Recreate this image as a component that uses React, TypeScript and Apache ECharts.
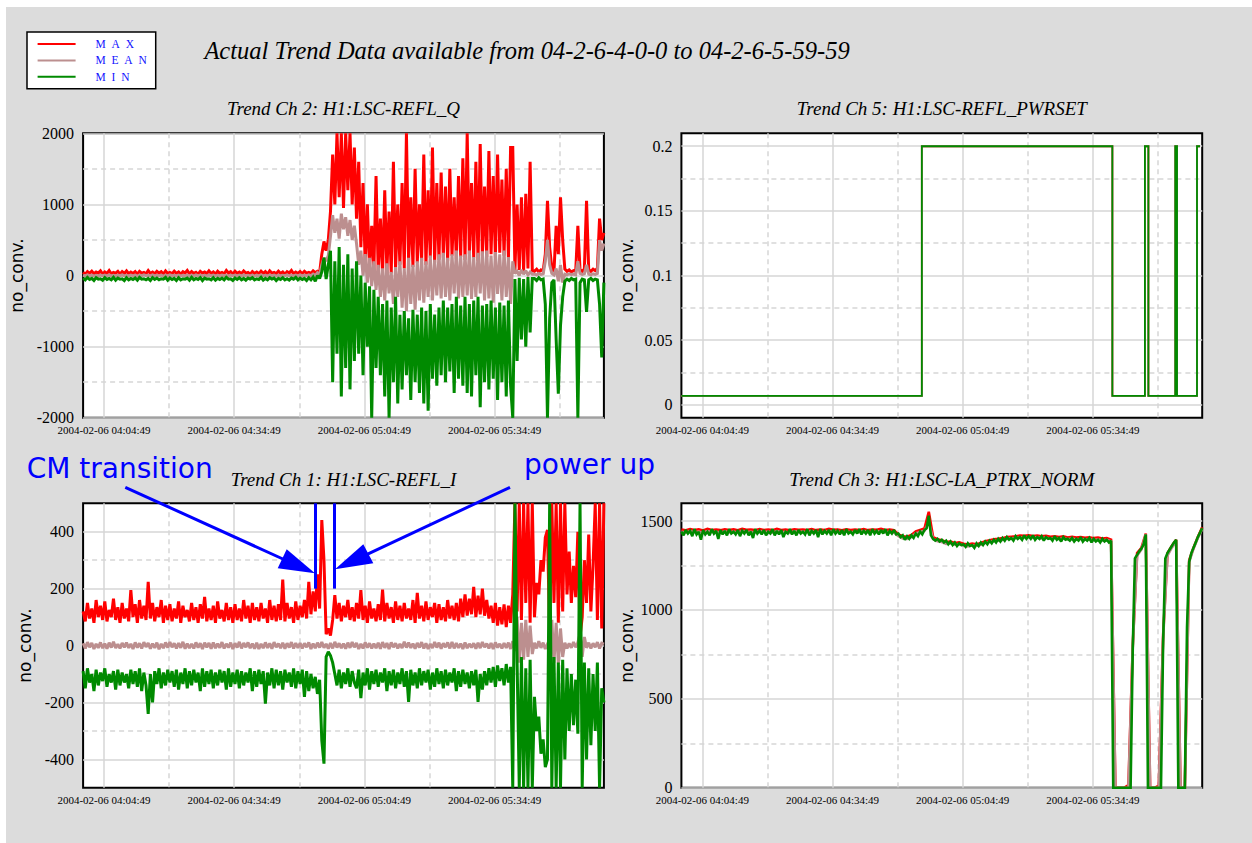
import React, { useEffect, useRef } from "react";
import * as echarts from "echarts";

// ---------- axis ticks (minutes after 04:00:00) ----------
const xTickLabels = ["2004-02-06 04:04:49", "2004-02-06 04:34:49", "2004-02-06 05:04:49", "2004-02-06 05:34:49"];
const xTickMinutes = [4 + 49 / 60, 34 + 49 / 60, 64 + 49 / 60, 94 + 49 / 60];
const xDashMinutes = [19 + 49 / 60, 49 + 49 / 60, 79 + 49 / 60, 109 + 49 / 60];

const ch2YLabels = [-2000, -1000, 0, 1000, 2000];
const ch2YDash = [-1500, -500, 500, 1500];
const ch5YLabels = [0, 0.05, 0.1, 0.15, 0.2];
const ch5YDash = [0.025, 0.075, 0.125, 0.175];
const ch1YLabels = [-400, -200, 0, 200, 400];
const ch1YDash = [-300, -100, 100, 300];
const ch3YLabels = [0, 500, 1000, 1500];
const ch3YDash = [250, 750, 1250];

const FINE_STEP = 0.5; // minutes between samples
const COARSE_STEP = 1;

// ---------- Ch 2: H1:LSC-REFL_Q ----------
const reflQMax = [
  45, 20, 55, 30, 60, 25, 50, 35, 65, 20, 50, 30, 70, 25, 45, 35, 60, 20, 55, 30,
  65, 25, 50, 30, 55, 20, 60, 35, 45, 25, 70, 30, 50, 25, 60, 35, 55, 20, 65, 30,
  45, 25, 60, 30, 50, 20, 55, 35, 70, 25, 55, 30, 45, 20, 60, 35, 50, 25, 65, 30,
  50, 20, 60, 30, 45, 25, 70, 35, 55, 20, 60, 30, 50, 25, 65, 35, 45, 20, 55, 30,
  50, 25, 60, 30, 55, 20, 65, 35, 45, 25, 60, 30, 50, 20, 55, 35, 70, 25, 50, 30,
  55, 25, 60, 35, 45, 30, 65, 40, 60, 45,
  300, 480, 350, 500,
  900, 1700, 1000, 2000, 1100, 2000, 950, 2000, 1200, 2000, 1000, 1800,
  800, 1600, 400, 1300, 150, 1000, 100, 700, 80, 1400,
  50, 800, 20, 1200, 60, 900, 30, 1600, 80, 1000,
  150, 1300, 100, 2000, 200, 1100, 120, 1500, 180, 1000,
  200, 1700, 150, 1200, 250, 1800, 180, 1300, 220, 1450,
  250, 1250, 200, 1500, 280, 1100, 230, 1400, 260, 1650,
  220, 2000, 300, 1300, 250, 1600, 200, 1850, 280, 1250,
  260, 1750, 300, 1400, 250, 1700, 320, 1350, 280, 1500, 240, 1800,
  1800, 80,
  1000, 80, 1100, 60, 1150, 100, 1600, 70,
  60, 90, 50, 80, 60, 300, 1050, 400, 100, 60, 700, 300, 1100, 500, 90, 60, 80, 50, 70, 60,
  700, 80, 60, 90, 1050, 80, 60, 90, 70, 100, 800, 500, 600,
];
const reflQMean = [
  5, -5, 8, -3, 6, -8, 4, -4, 7, -6, 6, -4, 9, -5, 3, -7, 5, -3, 8, -5,
  4, -6, 7, -4, 5, -8, 6, -5, 9, -3, 5, -5, 8, -6, 4, -4, 7, -7, 6, -5,
  8, -3, 5, -6, 7, -4, 4, -8, 6, -5, 5, -6, 9, -4, 6, -5, 3, -7, 8, -4,
  6, -5, 4, -6, 7, -3, 5, -8, 6, -4, 7, -5, 5, -4, 8, -6, 4, -5, 6, -7,
  5, -4, 8, -6, 3, -5, 7, -4, 6, -8, 6, -5, 5, -3, 9, -6, 4, -5, 7, -4,
  8, -5, 6, -4, 10, -3, 20, 0, 40, 10,
  150, 250, 200, 280,
  550, 850, 600, 800, 520, 870, 650, 820, 560, 780, 500, 700,
  450, 150, 350, 0, 300, -100, 250, -150, 200, -200,
  150, -300, 100, -350, 170, -250, 50, -400, 120, -300,
  200, -450, 100, -500, 250, -400, 150, -480, 200, -350,
  250, -380, 200, -300, 280, -350, 220, -280, 300, -320,
  320, -300, 250, -350, 300, -250, 350, -320, 280, -300,
  300, -280, 350, -330, 260, -300, 320, -250, 340, -350,
  350, -320, 280, -380, 330, -260, 300, -350, 350, -300, 260, -400,
  200, 30,
  60, 0, 80, 20, 70, 10, 50, 20,
  20, 10, 30, 15, 25, 200, 500, 150, 30, 10, 100, -80, 150, -100, 20, 10, 25, 15, 20, 10,
  200, 30, 15, 25, 150, 20, 10, 25, 15, 30, 500, 350, 450,
];
const reflQMin = [
  -35, -60, -25, -55, -40, -70, -30, -50, -45, -65, -30, -55, -40, -60, -25, -65, -35, -50, -45, -70,
  -30, -60, -40, -55, -35, -65, -25, -50, -45, -60, -40, -70, -30, -55, -35, -60, -45, -50, -25, -65,
  -35, -55, -40, -70, -30, -60, -45, -50, -35, -65, -25, -60, -40, -55, -30, -70, -35, -50, -45, -60,
  -30, -65, -40, -55, -35, -60, -25, -50, -45, -70, -35, -55, -30, -60, -40, -65, -35, -50, -30, -60,
  -45, -55, -25, -65, -40, -60, -30, -50, -35, -70, -40, -55, -30, -60, -45, -65, -35, -50, -25, -60,
  -35, -55, -40, -70, -30, -60, -20, -80, 0, -40,
  50, 250, -50, 150,
  350, -1500, 200, -1100, 400, -1700, 150, -1300, 300, -1600, 100, -1200,
  200, -1100, 0, -1400, -100, -1000, -150, -2000, -200, -1300,
  -300, -1400, -400, -1700, -350, -2000, -450, -1500, -300, -1800,
  -550, -1600, -500, -1400, -600, -1750, -480, -1500, -550, -1650,
  -450, -1800, -500, -1900, -400, -1450, -550, -1550, -450, -1400,
  -350, -1500, -450, -1350, -400, -1650, -300, -1450, -420, -1550,
  -300, -1650, -400, -1700, -350, -1400, -300, -1850, -420, -1500,
  -400, -1600, -350, -1450, -450, -1750, -380, -1500, -420, -1700, -350, -1550,
  -2000, -50,
  -1200, -30, -900, -50, -1000, -20, -800, -40,
  -40, -70, -30, -60, -50, -400, -2000, -600, -100, -60, -900, -1660, -700, -300, -80, -50, -70, -40, -60, -50,
  -2000, -100, -50, -60, -510, -60, -40, -70, -50, -60, -400, -1150, -100,
];

// ---------- Ch 5: H1:LSC-REFL_PWRSET (step changes) ----------
const pwrsetMinutes = [0, 55.4, 99.3, 106.8, 107.6, 113.8, 114.2, 118.8, 119.5];
const pwrsetValues = [0.007, 0.2, 0.007, 0.2, 0.007, 0.2, 0.007, 0.2, 0.2];

// ---------- Ch 1: H1:LSC-REFL_I ----------
const reflIMax = [
  120, 85, 150, 95, 130, 80, 160, 100, 140, 90, 155, 85, 125, 100, 165, 90, 135, 80, 150, 95,
  130, 85, 195, 100, 145, 80, 160, 95, 140, 90, 224, 95, 150, 85, 135, 100, 160, 80, 140, 90,
  145, 85, 130, 95, 155, 80, 140, 100, 125, 85, 150, 90, 135, 80, 145, 95, 171, 85, 130, 90,
  140, 80, 155, 95, 125, 85, 150, 90, 135, 80, 145, 90, 130, 85, 160, 95, 140, 80, 150, 90,
  135, 85, 150, 95, 130, 80, 160, 90, 140, 85, 145, 90, 232, 85, 150, 95, 135, 80, 155, 90,
  140, 100, 160, 95, 224, 110, 190, 120, 250, 130,
  441, 300, 40, 60, 35, 90,
  177, 95, 150, 85, 140, 100, 160, 90, 135, 85,
  150, 95, 195, 90, 140, 80, 155, 95, 130, 85,
  145, 90, 197, 85, 150, 95, 135, 80, 155, 90,
  140, 85, 150, 95, 130, 90, 160, 80, 185, 95,
  140, 85, 155, 90, 135, 100, 150, 80, 145, 90,
  135, 85, 160, 95, 140, 90, 150, 85, 165, 100,
  180, 105, 165, 110, 206, 100, 175, 110, 200, 105,
  160, 95, 140, 80, 150, 70, 135, 75, 145, 65, 140, 80,
  180, 500,
  120, 500, 90, 500, 150, 500, 80, 500,
  100, 220, 180, 300, 260, 380, 406, 30, 500, 150, 500, 80, 500, 120, 500, 180, 330, 150, 280, 170,
  400, 30, 100, 300, 150, 390, 120, 280, 500, 90, 500, 60, 500,
];
const reflIMean = [
  8, -10, 12, -6, 9, -12, 6, -8, 11, -9, 7, -11, 10, -7, 13, -9, 5, -10, 9, -6,
  10, -8, 6, -12, 11, -7, 8, -10, 12, -5, 9, -11, 7, -8, 10, -13, 6, -9, 11, -7,
  12, -6, 8, -10, 9, -8, 13, -11, 7, -9, 6, -10, 11, -7, 8, -12, 10, -6, 9, -11,
  11, -9, 7, -8, 12, -10, 6, -7, 10, -12, 8, -7, 13, -10, 9, -6, 11, -9, 7, -11,
  10, -12, 6, -9, 11, -8, 8, -11, 12, -6, 7, -9, 10, -11, 8, -7, 12, -10, 9, -8,
  9, -10, 8, -6, 11, -12, 7, -9, 10, -7, 12, -8, 6, -11, 9, -10, 13, -7, 8, -9,
  7, -11, 10, -8, 12, -6, 9, -12, 6, -10, 11, -7, 8, -10, 7, -9, 10, -11, 12, -8,
  9, -12, 11, -6, 8, -10, 6, -9, 13, -7, 10, -8, 7, -11, 9, -7, 12, -10, 8, -12,
  6, -9, 12, -7, 10, -11, 8, -6, 11, -10, 13, -10, 9, -8, 7, -12, 11, -9, 6, -7,
  8, -11, 10, -9, 12, -6, 7, -10, 9, -12, 11, -7, 6, -10, 9, -8, 10, -12, 15, -20,
  100, -60, 80, -50, 90, -40, 70, -30,
  10, -10, 15, -8, 10, -12, 5, -5,
  90, -60, 80, -63, 60, -40,
  10, -10, 8, -8, 12, -6, 10,
  42, -40, 30,
  -8, 10, -10, 8, -6, 12, -10, 8, 5,
];
const reflIMin = [
  -90, -150, -80, -130, -100, -160, -85, -140, -95, -125, -80, -145, -100, -130, -90, -155, -85, -140, -95, -130,
  -100, -150, -85, -135, -90, -145, -80, -160, -95, -140, -240, -100, -200, -90, -135, -80, -150, -95, -140, -85,
  -130, -90, -145, -85, -155, -95, -135, -80, -150, -90, -140, -85, -130, -95, -160, -80, -145, -90, -135, -85,
  -150, -95, -140, -85, -130, -90, -155, -80, -145, -95, -135, -85, -150, -90, -140, -95, -130, -80, -160, -90,
  -145, -85, -135, -90, -204, -95, -140, -80, -150, -85, -140, -90, -155, -85, -130, -95, -145, -80, -150, -90,
  -135, -85, -180, -90, -160, -100, -150, -110, -170, -120,
  -333, -415, -40, -22, -35, -60,
  -100, -140, -85, -150, -95, -135, -80, -145, -90, -130,
  -150, -85, -185, -95, -140, -80, -155, -90, -135, -85,
  -145, -95, -130, -80, -160, -90, -140, -85, -150, -95,
  -135, -80, -145, -90, -198, -85, -140, -95, -150, -80,
  -140, -90, -130, -85, -155, -95, -145, -80, -135, -90,
  -150, -85, -140, -95, -130, -80, -160, -90, -145, -85,
  -135, -95, -150, -90, -140, -85, -198, -100, -155, -90,
  -140, -80, -130, -75, -145, -70, -125, -80, -140, -65, -130, -75,
  -500, 500,
  -60, -500, -40, -500, -80, -500, -50, -500,
  -180, -300, -250, -380, -330, -427, -400, 500, -500, -40, -500, -60, -500, -50, -400, -80, -300, -100, -280, -120,
  -310, 500, -500, -60, -400, -80, -350, -100, -300, -60, -500, -150, -200,
];
const cmMarkerMinutes = [53.6, 57.9];
const cmMarkerFrom = 200;
const cmMarkerTo = 500;

// ---------- Ch 3: H1:LSC-LA_PTRX_NORM ----------
const ptrxMin = [
  1440, 1420, 1450, 1430, 1445, 1415, 1455, 1425, 1440, 1395, 1450, 1425, 1440, 1420, 1455, 1430, 1445, 1400, 1450, 1425,
  1445, 1420, 1455, 1430, 1440, 1425, 1450, 1415, 1445, 1430, 1450, 1420, 1440, 1405, 1455, 1430, 1445, 1425, 1450, 1420,
  1440, 1430, 1455, 1420, 1445, 1425, 1450, 1410, 1440, 1430, 1455, 1425, 1445, 1420, 1450, 1430, 1440, 1425, 1455, 1420,
  1445, 1430, 1450, 1410, 1455, 1425, 1445, 1430, 1450, 1420, 1455, 1430, 1445, 1425, 1450, 1420, 1455, 1430, 1440, 1425,
  1450, 1430, 1455, 1425, 1445, 1430, 1450, 1420, 1455, 1430, 1445, 1425, 1450, 1430, 1455, 1420, 1445, 1430, 1450, 1425,
  1430, 1410, 1420, 1395, 1415, 1400, 1420, 1405, 1430, 1415, 1440, 1425, 1450, 1460, 1530, 1420, 1400, 1390, 1400, 1385,
  1395, 1380, 1390, 1370, 1385, 1365, 1380, 1360, 1375, 1365, 1370, 1355, 1375, 1360, 1365, 1350, 1375, 1360, 1380, 1365,
  1385, 1370, 1390, 1375, 1395, 1380, 1400, 1385, 1405, 1390, 1410, 1395, 1405, 1390, 1415, 1400, 1410, 1395, 1420, 1400,
  1415, 1400, 1420, 1395, 1410, 1400, 1415, 1390, 1410, 1400, 1405, 1390, 1415, 1395, 1405, 1385, 1410, 1395, 1400, 1390,
  1405, 1385, 1400, 1390, 1410, 1385, 1400, 1390, 1405, 1380, 1400, 1385, 1395, 1380, 1400, 1385, 1395, 1380, 1390,
  0, 0, 0, 0, 0, 0, 0, 0, 0,
  780, 1290, 1310, 1330, 1345, 1370, 1425, 0,
  0, 0, 0, 0, 0, 0,
  820, 1290, 1320, 1340, 1360, 1380, 1395, 0,
  0, 0, 0,
  900, 1270, 1320, 1350, 1380, 1410, 1435, 1460,
];
const ptrxMax = [
  1452, 1448, 1455, 1450, 1453, 1447, 1456, 1450, 1452, 1449, 1454, 1450, 1453, 1448, 1456, 1451, 1452, 1449, 1455, 1450,
  1453, 1449, 1456, 1450, 1452, 1448, 1454, 1451, 1453, 1450, 1455, 1449, 1452, 1450, 1456, 1451, 1453, 1448, 1454, 1450,
  1452, 1450, 1455, 1449, 1453, 1451, 1456, 1450, 1452, 1449, 1425, 1415, 1412, 1422, 1442, 1450, 1458, 1552, 1410, 1398,
  1392, 1382, 1385, 1377, 1380, 1372, 1368, 1374, 1370, 1377, 1387, 1392, 1397, 1400, 1404, 1410, 1412, 1414, 1418, 1417,
  1420, 1416, 1418, 1414, 1417, 1412, 1415, 1410, 1414, 1408, 1412, 1407, 1410, 1406, 1409, 1404, 1407, 1402, 1405, 1395,
  0, 0, 0, 15, 800, 1320, 1350, 1430, 0, 0, 12, 860, 1320, 1360, 1395, 0, 0, 1280, 1350, 1410,
  1465,
];
const ptrxMean = [
  1440, 1435, 1443, 1437, 1441, 1433, 1444, 1438, 1440, 1435, 1442, 1436, 1441, 1434, 1444, 1439, 1440, 1435, 1443, 1437,
  1441, 1435, 1444, 1437, 1440, 1434, 1442, 1438, 1441, 1436, 1443, 1435, 1440, 1437, 1444, 1438, 1441, 1434, 1442, 1437,
  1440, 1437, 1443, 1435, 1441, 1438, 1444, 1437, 1440, 1435, 1415, 1402, 1400, 1410, 1430, 1438, 1445, 1495, 1398, 1386,
  1382, 1372, 1375, 1367, 1370, 1362, 1358, 1364, 1360, 1367, 1377, 1382, 1387, 1390, 1394, 1400, 1402, 1404, 1408, 1406,
  1410, 1405, 1408, 1403, 1407, 1401, 1405, 1399, 1403, 1398, 1401, 1396, 1399, 1395, 1398, 1393, 1396, 1391, 1394, 1385,
  0, 0, 0, 0, 790, 1305, 1340, 1425, 0, 0, 0, 840, 1305, 1350, 1385, 0, 0, 1270, 1345, 1405,
  1455,
];

// ---------- styling ----------
const COLORS = { MAX: "#ff0000", MEAN: "#bc8f8f", MIN: "#008a00" };
const GRID_COLOR = "#d6d6d6";
const PW = 520.8;
const PH = 284.5;

const even = (vals: number[], step: number) => vals.map((v, i) => [i * step, v]);
const paired = (ts: number[], vals: number[]) => ts.map((t, i) => [t, vals[i]]);

type Panel = {
  title: string;
  left: number;
  top: number;
  yMin: number;
  yMax: number;
  yLabels: number[];
  yDash: number[];
  nameGap: number;
  max: number[][];
  mean: number[][];
  min: number[][];
  width: number;
  step?: string;
  markers?: boolean;
};

const panels: Panel[] = [
  {
    title: "Trend Ch 2: H1:LSC-REFL_Q", left: 83.1, top: 133.3,
    yMin: -2000, yMax: 2000, yLabels: ch2YLabels, yDash: ch2YDash, nameGap: 57.5,
    max: even(reflQMax, FINE_STEP), mean: even(reflQMean, FINE_STEP), min: even(reflQMin, FINE_STEP),
    width: 3,
  },
  {
    title: "Trend Ch 5: H1:LSC-REFL_PWRSET", left: 681.4, top: 133.3,
    yMin: -0.01, yMax: 0.21, yLabels: ch5YLabels, yDash: ch5YDash, nameGap: 46,
    max: paired(pwrsetMinutes, pwrsetValues), mean: paired(pwrsetMinutes, pwrsetValues), min: paired(pwrsetMinutes, pwrsetValues),
    width: 1.8, step: "end",
  },
  {
    title: "Trend Ch 1: H1:LSC-REFL_I", left: 83.1, top: 503.3,
    yMin: -500, yMax: 500, yLabels: ch1YLabels, yDash: ch1YDash, nameGap: 50,
    max: even(reflIMax, FINE_STEP), mean: even(reflIMean, FINE_STEP), min: even(reflIMin, FINE_STEP),
    width: 3, markers: true,
  },
  {
    title: "Trend Ch 3: H1:LSC-LA_PTRX_NORM", left: 681.4, top: 503.3,
    yMin: 0, yMax: 1600, yLabels: ch3YLabels, yDash: ch3YDash, nameGap: 46,
    max: even(ptrxMax, COARSE_STEP), mean: even(ptrxMean, COARSE_STEP), min: even(ptrxMin, FINE_STEP),
    width: 2.6,
  },
];

function xLabel(v: number) {
  const k = xTickMinutes.findIndex((m) => Math.abs(m - v) < 0.01);
  return k >= 0 ? xTickLabels[k] : "";
}

function buildOption() {
  const grid: any[] = [];
  const xAxis: any[] = [];
  const yAxis: any[] = [];
  const series: any[] = [];
  const graphic: any[] = [];

  panels.forEach((p, gi) => {
    grid.push({
      left: p.left, top: p.top, width: PW, height: PH,
      show: true, backgroundColor: "#ffffff", borderColor: "#000000", borderWidth: 2,
    });
    const solid = { show: true, lineStyle: { color: GRID_COLOR, width: 1.5, type: "solid" } };
    const dashed = { show: true, lineStyle: { color: GRID_COLOR, width: 1.5, type: [5, 4] } };
    const xi = xAxis.length;
    xAxis.push({
      type: "value", gridIndex: gi, min: 0, max: 120,
      axisLine: { show: false },
      axisTick: { show: false, customValues: xTickMinutes },
      axisLabel: {
        customValues: xTickMinutes, formatter: xLabel, margin: 7,
        fontFamily: "Liberation Serif", fontSize: 11, color: "#000",
      },
      splitLine: solid,
    });
    xAxis.push({
      type: "value", gridIndex: gi, min: 0, max: 120,
      axisLine: { show: false },
      axisTick: { show: false, customValues: xDashMinutes },
      axisLabel: { show: false },
      splitLine: dashed,
    });
    const yi = yAxis.length;
    yAxis.push({
      type: "value", gridIndex: gi, min: p.yMin, max: p.yMax, position: "left",
      name: "no_conv.", nameLocation: "middle", nameRotate: 90, nameGap: p.nameGap,
      nameTextStyle: { fontFamily: "DejaVu Sans", fontSize: 17, color: "#000" },
      axisLine: { show: false },
      axisTick: { show: false, customValues: p.yLabels },
      axisLabel: {
        customValues: p.yLabels, formatter: (v: number) => String(v), margin: 9,
        fontFamily: "Liberation Serif", fontSize: 16, color: "#000",
      },
      splitLine: solid,
    });
    yAxis.push({
      type: "value", gridIndex: gi, min: p.yMin, max: p.yMax, position: "right",
      axisLine: { show: false },
      axisTick: { show: false, customValues: p.yDash },
      axisLabel: { show: false },
      splitLine: dashed,
    });
    const mk = (name: "MAX" | "MEAN" | "MIN", data: number[][]) => {
      const s: any = {
        type: "line", name, xAxisIndex: xi, yAxisIndex: yi, data,
        showSymbol: false, symbol: "none", silent: true, clip: true,
        color: COLORS[name], itemStyle: { color: COLORS[name] },
        lineStyle: { width: p.width, color: COLORS[name], join: "miter", miterLimit: 2 },
        emphasis: { disabled: true },
      };
      if (p.step) s.step = p.step;
      return s;
    };
    series.push(mk("MAX", p.max));
    series.push(mk("MEAN", p.mean));
    const minSeries = mk("MIN", p.min);
    if (p.markers) {
      minSeries.markLine = {
        silent: true, symbol: ["none", "none"], label: { show: false },
        lineStyle: { color: "#0000ff", width: 3, type: "solid" },
        emphasis: { disabled: true },
        data: cmMarkerMinutes.map((t) => [{ coord: [t, cmMarkerFrom] }, { coord: [t, cmMarkerTo] }]),
      };
    }
    series.push(minSeries);

    graphic.push({
      type: "text", x: p.left + PW / 2, y: p.top < 300 ? 108 : 479, z: 50,
      style: {
        text: p.title, fill: "#000", align: "center", verticalAlign: "middle",
        fontFamily: "Liberation Serif", fontStyle: "italic", fontSize: 19,
      },
    });
  });

  graphic.push({
    type: "text", x: 204.4, y: 50.5, z: 50,
    style: {
      text: "Actual Trend Data available from 04-2-6-4-0-0 to 04-2-6-5-59-59",
      fill: "#000", align: "left", verticalAlign: "middle",
      fontFamily: "Liberation Serif", fontStyle: "italic", fontSize: 24.5,
    },
  });
  // annotations
  graphic.push({
    type: "text", x: 26.7, y: 468, z: 60,
    style: { text: "CM transition", fill: "#0000ff", align: "left", verticalAlign: "middle", fontFamily: "DejaVu Sans", fontSize: 28 },
  });
  graphic.push({
    type: "text", x: 524, y: 464.5, z: 60,
    style: { text: "power up", fill: "#0000ff", align: "left", verticalAlign: "middle", fontFamily: "DejaVu Sans", fontSize: 28 },
  });
  graphic.push({
    type: "line", z: 60, shape: { x1: 125.3, y1: 487.3, x2: 284, y2: 559.5 },
    style: { stroke: "#0000ff", lineWidth: 3 },
  });
  graphic.push({
    type: "polygon", z: 60, shape: { points: [[315, 573.3], [277.7, 568.3], [286.7, 549.3]] },
    style: { fill: "#0000ff" },
  });
  graphic.push({
    type: "line", z: 60, shape: { x1: 510, y1: 487.3, x2: 366, y2: 554.8 },
    style: { stroke: "#0000ff", lineWidth: 3 },
  });
  graphic.push({
    type: "polygon", z: 60, shape: { points: [[335, 569.3], [363.3, 544.3], [373.3, 563.3]] },
    style: { fill: "#0000ff" },
  });

  return {
    animation: false,
    backgroundColor: "#dcdcdc",
    grid, xAxis, yAxis, series, graphic,
    legend: {
      left: 27, top: 32, orient: "vertical",
      data: ["MAX", "MEAN", "MIN"],
      icon: "rect", itemWidth: 38, itemHeight: 2, itemGap: 4.4,
      padding: [6, 9, 6, 10.6],
      backgroundColor: "#ffffff", borderColor: "#000000", borderWidth: 1.5, borderRadius: 0,
      selectedMode: false,
      formatter: (name: string) => name.split("").join("\u2002"),
      textStyle: { fontFamily: "Liberation Serif", fontSize: 11.5, color: "#1010ff", lineHeight: 12, padding: [0, 0, 0, 15] },
    },
  };
}

export default function App() {
  const ref = useRef<HTMLDivElement>(null);
  useEffect(() => {
    if (!ref.current) return;
    const chart = echarts.init(ref.current, null, { renderer: "svg" });
    chart.setOption(buildOption() as any);
    return () => chart.dispose();
  }, []);
  return (
    <div style={{ position: "fixed", left: 0, top: 0, width: 1252, height: 843, background: "#ffffff" }}>
      <div
        ref={ref}
        style={{ position: "absolute", left: 0, top: 0, width: 1252, height: 843, clipPath: "inset(7px 0 0 6px)" }}
      />
    </div>
  );
}
